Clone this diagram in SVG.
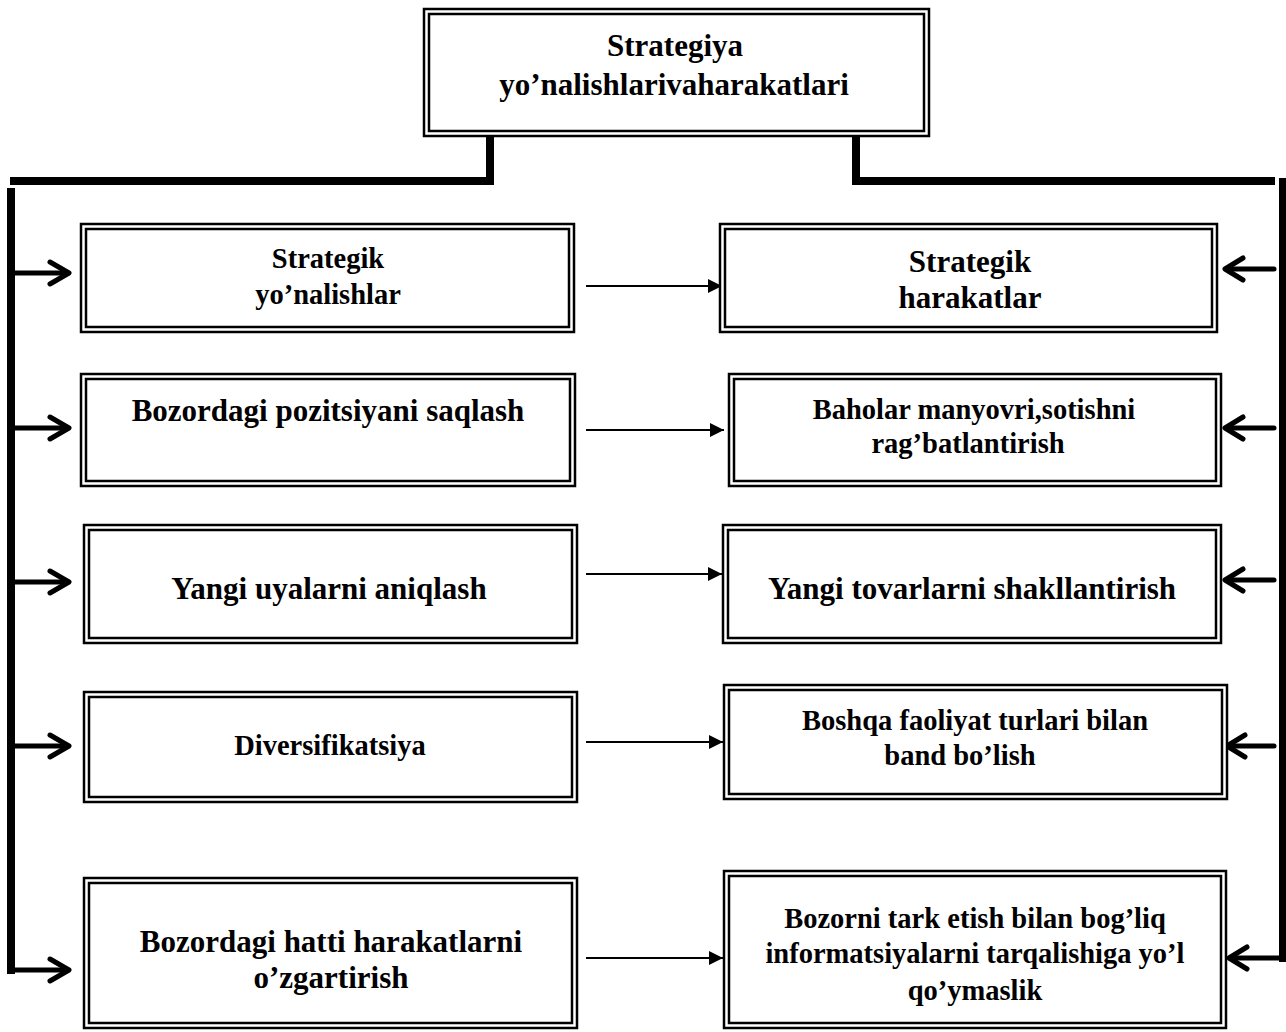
<svg xmlns="http://www.w3.org/2000/svg" width="1286" height="1032" viewBox="0 0 1286 1032">
<style>
.o{fill:#fff;stroke:#000;stroke-width:2.5}
.i{fill:none;stroke:#000;stroke-width:2.5}
text{font-family:"Liberation Serif","Times New Roman",serif;font-weight:bold;fill:#000;text-anchor:middle}
.L{font-size:31px}
.S{font-size:28.5px}
.thick{stroke:#000;stroke-width:8;fill:none}
.arr{stroke:#000;stroke-width:5;fill:none;stroke-linecap:round;stroke-linejoin:round}
.thin{stroke:#000;stroke-width:2;fill:none}
</style>
<defs>
<marker id="tri" markerWidth="14" markerHeight="14" refX="14" refY="7" orient="auto" markerUnits="userSpaceOnUse">
<path d="M0,0 L14,7 L0,14 Z" fill="#000"/>
</marker>
</defs>
<rect width="1286" height="1032" fill="#fff"/>

<g id="connectors">
<!-- left trunk -->
<polyline class="thick" points="490,136 490,181 10,181"/>
<line class="thick" x1="11" y1="188" x2="11" y2="974"/>
<line class="arr" x1="15" y1="273" x2="68" y2="273"/><polyline class="arr" points="50,262 69,273 50,284"/>
<line class="arr" x1="15" y1="428" x2="68" y2="428"/><polyline class="arr" points="50,417 69,428 50,439"/>
<line class="arr" x1="15" y1="582" x2="68" y2="582"/><polyline class="arr" points="50,571 69,582 50,593"/>
<line class="arr" x1="15" y1="746" x2="68" y2="746"/><polyline class="arr" points="50,735 69,746 50,757"/>
<line class="arr" x1="11" y1="970" x2="68" y2="970"/><polyline class="arr" points="50,959 69,970 50,981"/>
<!-- right trunk -->
<polyline class="thick" points="856,136 856,181 1275,181"/>
<line class="thick" x1="1283" y1="178" x2="1283" y2="962"/>
<line class="arr" x1="1274" y1="269" x2="1226" y2="269"/><polyline class="arr" points="1243,258 1225,269 1243,280"/>
<line class="arr" x1="1274" y1="428" x2="1226" y2="428"/><polyline class="arr" points="1243,417 1225,428 1243,439"/>
<line class="arr" x1="1274" y1="580" x2="1226" y2="580"/><polyline class="arr" points="1243,569 1225,580 1243,591"/>
<line class="arr" x1="1274" y1="746" x2="1228" y2="746"/><polyline class="arr" points="1245,735 1227,746 1245,757"/>
<line class="arr" x1="1283" y1="958" x2="1230" y2="958"/><polyline class="arr" points="1247,947 1229,958 1247,969"/>
<!-- middle arrows -->
<line class="thin" x1="586" y1="286" x2="722" y2="286" marker-end="url(#tri)"/>
<line class="thin" x1="586" y1="430" x2="724" y2="430" marker-end="url(#tri)"/>
<line class="thin" x1="586" y1="574" x2="722" y2="574" marker-end="url(#tri)"/>
<line class="thin" x1="586" y1="742" x2="723" y2="742" marker-end="url(#tri)"/>
<line class="thin" x1="586" y1="958" x2="723" y2="958" marker-end="url(#tri)"/>
</g>

<g id="top">
<rect class="o" x="424" y="9" width="505" height="127"/>
<rect class="i" x="429" y="14" width="495" height="117"/>
<text class="L" x="675" y="56">Strategiya</text>
<text class="L" x="674" y="95">yo’nalishlarivaharakatlari</text>
</g>

<g id="l1">
<rect class="o" x="81" y="224" width="493" height="108"/>
<rect class="i" x="86" y="229" width="483" height="98"/>
<text class="S" x="328" y="268">Strategik</text>
<text class="S" x="328" y="304">yo’nalishlar</text>
</g>
<g id="r1">
<rect class="o" x="720" y="224" width="497" height="108"/>
<rect class="i" x="725" y="229" width="487" height="98"/>
<text class="L" x="970" y="272">Strategik</text>
<text class="L" x="970" y="308">harakatlar</text>
</g>

<g id="l2">
<rect class="o" x="81" y="374" width="494" height="112"/>
<rect class="i" x="86" y="379" width="484" height="102"/>
<text class="L" x="328" y="421">Bozordagi pozitsiyani saqlash</text>
</g>
<g id="r2">
<rect class="o" x="729" y="374" width="492" height="112"/>
<rect class="i" x="734" y="379" width="482" height="102"/>
<text class="S" x="974" y="419">Baholar manyovri,sotishni</text>
<text class="S" x="968" y="453">rag’batlantirish</text>
</g>

<g id="l3">
<rect class="o" x="84" y="525" width="493" height="118"/>
<rect class="i" x="89" y="530" width="483" height="108"/>
<text class="L" x="329" y="599">Yangi uyalarni aniqlash</text>
</g>
<g id="r3">
<rect class="o" x="723" y="525" width="498" height="118"/>
<rect class="i" x="728" y="530" width="488" height="108"/>
<text class="L" x="972" y="599">Yangi tovarlarni shakllantirish</text>
</g>

<g id="l4">
<rect class="o" x="84" y="692" width="493" height="110"/>
<rect class="i" x="89" y="697" width="483" height="100"/>
<text class="S" x="330" y="755">Diversifikatsiya</text>
</g>
<g id="r4">
<rect class="o" x="724" y="685" width="503" height="114"/>
<rect class="i" x="729" y="690" width="493" height="104"/>
<text class="S" x="975" y="730">Boshqa faoliyat turlari bilan</text>
<text class="S" x="960" y="765">band bo’lish</text>
</g>

<g id="l5">
<rect class="o" x="84" y="878" width="493" height="150"/>
<rect class="i" x="89" y="883" width="483" height="140"/>
<text class="L" x="331" y="952">Bozordagi hatti harakatlarni</text>
<text class="L" x="331" y="988">o’zgartirish</text>
</g>
<g id="r5">
<rect class="o" x="724" y="871" width="502" height="157"/>
<rect class="i" x="729" y="876" width="492" height="147"/>
<text class="S" x="975" y="928">Bozorni tark etish bilan bog’liq</text>
<text class="S" x="975" y="963">informatsiyalarni tarqalishiga yo’l</text>
<text class="S" x="975" y="1000">qo’ymaslik</text>
</g>
</svg>
